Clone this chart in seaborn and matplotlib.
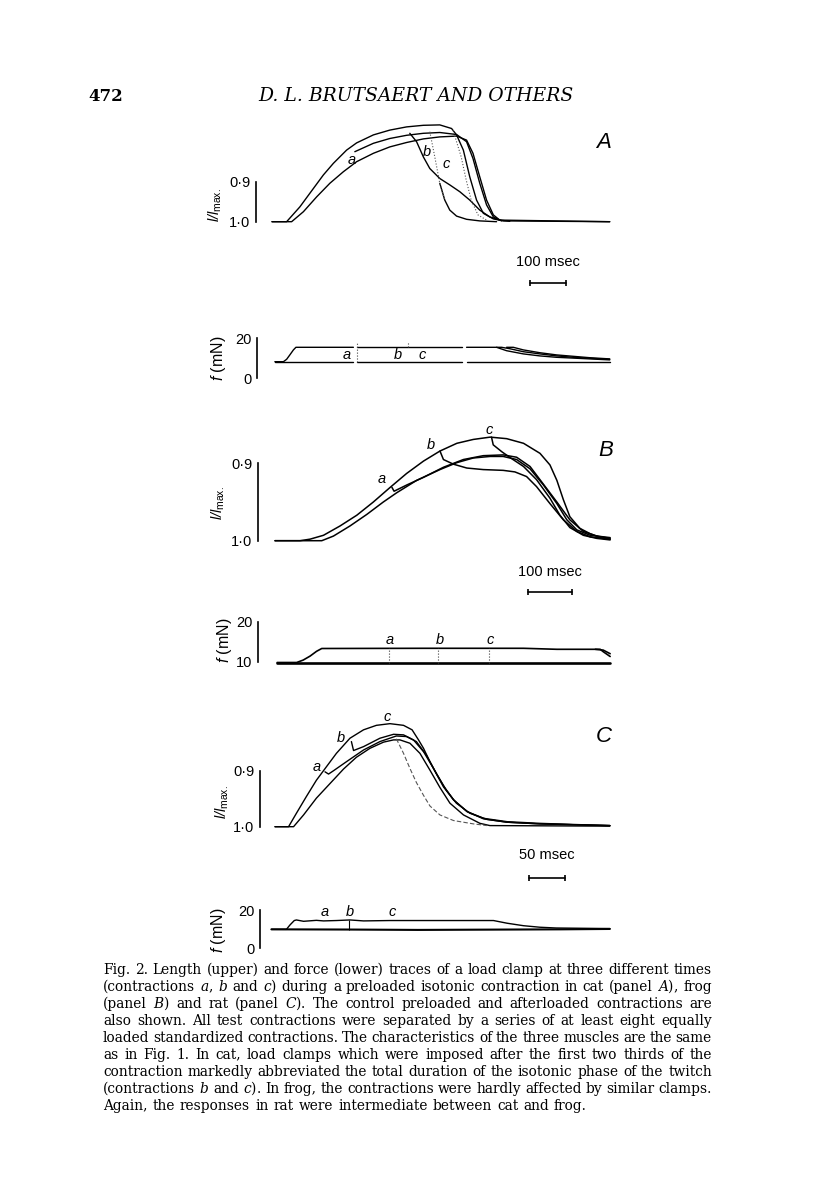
import matplotlib.pyplot as plt
import matplotlib.transforms as mtransforms
import pandas as pd
import seaborn as sns

W, H = 816, 1191

# ---------------- panel A (cat): length, l/l max. against msec
a_pre_t = [0, 41, 78, 106, 144, 172, 209, 237, 284, 330, 377, 424, 470, 503,
           517, 536, 554, 573, 592, 620, 648, 946]
a_pre_l = [1.0, 1.0, 0.963, 0.929, 0.883, 0.854, 0.821, 0.803, 0.783, 0.771,
           0.763, 0.759, 0.758, 0.767, 0.783, 0.821, 0.888, 0.946, 0.979,
           0.993, 0.998, 1.0]
a_aft_t = [0, 55, 88, 125, 162, 200, 237, 284, 330, 377, 424, 470, 517, 545,
           563, 582, 601, 620, 638, 946]
a_aft_l = [1.0, 1.0, 0.975, 0.938, 0.904, 0.875, 0.85, 0.829, 0.813, 0.802,
           0.793, 0.788, 0.786, 0.796, 0.829, 0.888, 0.946, 0.983, 0.996, 1.0]
a_a_t = [232, 284, 330, 377, 424, 470, 517, 545, 563, 582, 601, 620, 643]
a_a_l = [0.825, 0.804, 0.792, 0.784, 0.779, 0.777, 0.782, 0.8, 0.842, 0.904,
         0.958, 0.988, 0.998]
a_b_t = [386, 405, 424, 442, 470, 498, 526, 554, 582, 610, 638, 666]
a_b_l = [0.779, 0.8, 0.838, 0.867, 0.892, 0.908, 0.925, 0.946, 0.971, 0.988,
         0.996, 0.999]
a_c_t = [470, 484, 498, 517, 545, 582, 629]
a_c_l = [0.904, 0.946, 0.971, 0.986, 0.994, 0.998, 1.0]
a_c_fast_t = [442, 456, 470, 484]
a_c_fast_l = [0.775, 0.838, 0.904, 0.946]
a_fall_t = [507, 530, 544, 558, 577, 601]
a_fall_l = [0.771, 0.838, 0.896, 0.946, 0.983, 0.996]

# panel A force, mN
af_up1_t = [8, 32, 41, 50, 60, 67, 228]
af_up1_f = [8.3, 8.3, 9.5, 11.7, 14.2, 15.5, 15.5]
af_up2_t = [237, 531]
af_up2_f = [15.5, 15.5]
af_up3_t = [545, 643, 666, 704, 750, 797, 844, 890, 946]
af_up3_f = [15.5, 15.5, 14.8, 13.3, 12.2, 11.2, 10.5, 10.0, 9.5]
af_dec2_t = [629, 657, 704, 750, 797, 890, 946]
af_dec2_f = [15.5, 13.8, 12.2, 11.2, 10.5, 9.7, 9.2]
af_dec3_t = [657, 676, 704, 750, 797, 890, 946]
af_dec3_f = [15.5, 15.5, 14.2, 12.8, 11.7, 10.3, 9.7]
af_low1_t = [8, 228]
af_low2_t = [237, 531]
af_low3_t = [545, 946]
af_low_f = [8.3, 8.3]
af_marks_t = [237, 382]
af_marks_top = [17.5, 18.3]
af_marks_bot = [8.3, 15.5]

# ---------------- panel B (frog)
b_pre_t = [0, 58, 81, 112, 150, 189, 227, 266, 304, 343, 381, 420, 458, 497,
           535, 574, 612, 635, 651, 666, 681, 704, 728, 758, 774]
b_pre_l = [1.0, 1.0, 0.998, 0.993, 0.981, 0.967, 0.950, 0.931, 0.913, 0.897,
           0.884, 0.874, 0.869, 0.866, 0.868, 0.874, 0.887, 0.902, 0.922,
           0.947, 0.969, 0.984, 0.991, 0.997, 0.998]
b_aft_t = [0, 108, 135, 173, 212, 250, 281, 327, 381, 420, 458, 497, 527, 558,
           589, 620, 651, 674, 697, 728, 774]
b_aft_l = [1.0, 1.0, 0.994, 0.981, 0.966, 0.950, 0.938, 0.922, 0.908, 0.899,
           0.893, 0.891, 0.891, 0.895, 0.907, 0.928, 0.952, 0.973, 0.986,
           0.993, 0.996]
b_a_t = [270, 275, 304, 343, 389, 435, 481, 527, 558, 589, 620, 651, 681, 712,
         743, 774]
b_a_l = [0.931, 0.936, 0.928, 0.918, 0.905, 0.895, 0.890, 0.889, 0.892, 0.904,
         0.927, 0.950, 0.973, 0.988, 0.994, 0.997]
b_b_t = [381, 389, 412, 443, 481, 527, 554, 581, 604, 635, 666, 697, 728, 774]
b_b_l = [0.884, 0.895, 0.901, 0.906, 0.908, 0.909, 0.911, 0.917, 0.930, 0.952,
         0.973, 0.988, 0.995, 0.998]
b_c_t = [500, 504, 524, 547, 574, 604, 635, 658, 681, 712, 743, 774]
b_c_l = [0.866, 0.876, 0.885, 0.894, 0.904, 0.921, 0.945, 0.967, 0.983,
         0.993, 0.997, 0.999]

bf_up_t = [5, 50, 65, 81, 96, 108, 343, 574, 651, 751, 758, 774]
bf_up_f = [9.8, 9.8, 10.4, 11.4, 12.6, 13.3, 13.35, 13.35, 13.1, 13.1, 12.5,
           11.3]
bf_end_t = [740, 758, 774]
bf_end_f = [13.1, 12.9, 12.0]
bf_low_t = [5, 774]
bf_low_f = [9.8, 9.8]
bf_marks_t = [264, 377, 495]

# ---------------- panel C (rat)
c_pre_t = [0, 19, 30, 44, 58, 72, 86, 105, 124, 142, 161, 180, 192, 201, 208,
           217, 227, 236, 250, 269, 292, 325, 371, 418, 469]
c_pre_l = [1.0, 1.0, 0.976, 0.946, 0.917, 0.893, 0.869, 0.842, 0.827, 0.819,
           0.816, 0.819, 0.827, 0.845, 0.860, 0.884, 0.908, 0.929, 0.952,
           0.973, 0.985, 0.991, 0.994, 0.996, 0.998]
c_aft_t = [0, 26, 40, 58, 77, 96, 114, 133, 152, 166, 175, 189, 203, 217, 231,
           245, 264, 287, 301, 469]
c_aft_l = [1.0, 1.0, 0.979, 0.949, 0.923, 0.897, 0.876, 0.860, 0.849, 0.845,
           0.845, 0.851, 0.869, 0.899, 0.930, 0.958, 0.979, 0.994, 0.998,
           0.999]
c_a_t = [70, 75, 82, 100, 124, 147, 170, 184, 198, 212, 226, 240, 254, 273,
         297, 325, 371, 469]
c_a_l = [0.902, 0.906, 0.900, 0.884, 0.863, 0.848, 0.838, 0.839, 0.848, 0.872,
         0.905, 0.935, 0.958, 0.976, 0.987, 0.992, 0.995, 0.998]
c_b_t = [107, 110, 124, 147, 166, 180, 194, 208, 222, 236, 250, 269, 292, 325,
         371, 469]
c_b_l = [0.848, 0.864, 0.857, 0.842, 0.835, 0.836, 0.845, 0.866, 0.896,
         0.927, 0.952, 0.973, 0.986, 0.992, 0.995, 0.998]
c_c_t = [170, 180, 189, 198, 208, 217, 231, 250, 278, 297]
c_c_l = [0.843, 0.869, 0.896, 0.921, 0.944, 0.963, 0.979, 0.989, 0.995, 0.998]

cf_up_t = [-5, 16, 21, 27, 30, 40, 58, 68, 86, 105, 124, 161, 208, 306, 325,
           348, 371, 394, 469]
cf_up_f = [9.9, 9.9, 12.2, 14.5, 14.8, 14.1, 14.6, 14.3, 14.5, 14.8, 14.3,
           14.5, 14.5, 14.5, 13.1, 11.8, 11.0, 10.6, 10.3]
cf_low_t = [-5, 100, 200, 300, 400, 469]
cf_low_f = [9.9, 9.8, 9.6, 9.75, 9.9, 10.1]
cf_marks_t = [104]

length_ticks = [0.9, 1.0]
length_labels = ['0·9', '1·0']
force_ticks = {'A': [0, 20], 'B': [10, 20], 'C': [0, 20]}
scale_ms = {'A': 100, 'B': 100, 'C': 50}

caption = [
    "Fig. 2. Length (upper) and force (lower) traces of a load clamp at three different times",
    "(contractions $a$, $b$ and $c$) during a preloaded isotonic contraction in cat (panel $A$), frog",
    "(panel $B$) and rat (panel $C$). The control preloaded and afterloaded contractions are",
    "also shown. All test contractions were separated by a series of at least eight equally",
    "loaded standardized contractions. The characteristics of the three muscles are the same",
    "as in Fig. 1. In cat, load clamps which were imposed after the first two thirds of the",
    "contraction markedly abbreviated the total duration of the isotonic phase of the twitch",
    "(contractions $b$ and $c$). In frog, the contractions were hardly affected by similar clamps.",
    "Again, the responses in rat were intermediate between cat and frog.",
]


def px(x, y):
    return x / W, 1 - y / H


def frame(curves):
    parts = [pd.DataFrame({'t': t, 'v': v, 'curve': name})
             for name, (t, v) in curves.items()]
    return pd.concat(parts, ignore_index=True)


def panel(fig, box, t0_px, px_per_ms, ref_px, ref_val, px_per_unit, flip):
    left, right, top, bottom = box
    ax = fig.add_axes([left / W, 1 - bottom / H,
                       (right - left) / W, (bottom - top) / H])
    ax.set_xlim((left - t0_px) / px_per_ms, (right - t0_px) / px_per_ms)
    s = -1 if flip else 1
    ax.set_ylim(ref_val + s * (ref_px - bottom) / px_per_unit,
                ref_val + s * (ref_px - top) / px_per_unit)
    ax.patch.set_visible(False)
    return ax


def traces(ax, curves, lw=1.0, color='black', ls='-'):
    sns.lineplot(data=frame(curves), x='t', y='v', units='curve',
                 estimator=None, color=color, linewidth=lw, linestyle=ls,
                 ax=ax, legend=False)


def bracket(ax, ticks, labels):
    for side in ['top', 'right', 'bottom']:
        ax.spines[side].set_visible(False)
    ax.spines['left'].set_bounds(ticks[0], ticks[-1])
    ax.spines['left'].set_linewidth(1.2)
    ax.spines['left'].set_color('black')
    ax.set_yticks(ticks)
    ax.set_yticklabels(labels)
    ax.set_xticks([])
    ax.tick_params(axis='y', direction='in', length=4, width=1.2, pad=4,
                   labelsize=10.5, colors='black')
    ax.set_xlabel('')
    ax.set_ylabel('')


def scale_bar(fig, ax, t_start, ms, y_bar, y_text):
    trans = mtransforms.blended_transform_factory(ax.transData, fig.transFigure)
    ax.plot([t_start, t_start + ms], [1 - y_bar / H] * 2, color='black',
            lw=1.2, marker='|', markersize=5, markeredgewidth=1.2,
            transform=trans, clip_on=False)
    ax.text(t_start + ms / 2, 1 - y_text / H, f'{ms} msec', transform=trans,
            ha='center', va='center', fontsize=10.5)


def main():
    sns.set_style('white')
    plt.rcParams['font.family'] = ['Liberation Sans', 'DejaVu Sans']
    plt.rcParams['text.color'] = 'black'
    plt.rcParams['mathtext.fontset'] = 'custom'
    plt.rcParams['mathtext.it'] = 'DejaVu Serif:italic'
    plt.rcParams['mathtext.rm'] = 'DejaVu Serif'
    plt.rcParams['mathtext.sf'] = 'Liberation Sans:italic'
    plt.rcParams['mathtext.bf'] = 'Liberation Sans'

    fig = plt.figure(figsize=(W / 100, H / 100), dpi=100)
    fig.patch.set_facecolor('white')

    # header
    fig.text(*px(88, 101), '472', fontsize=12, weight='bold',
             family='DejaVu Serif', va='baseline')
    fig.text(*px(258, 101), 'D. L. BRUTSAERT AND OTHERS', fontsize=13.5,
             style='italic', family='DejaVu Serif', va='baseline')

    ylab_len = r'$\mathsf{l/l}_{\mathbf{max.}}$'
    ylab_f = r'$\mathsf{f}$ (mN)'

    # ---------- A
    ax = panel(fig, (256, 625, 115, 232), 272, 0.357, 221.7, 1.0, 400, True)
    traces(ax, {'pre': (a_pre_t, a_pre_l), 'aft': (a_aft_t, a_aft_l),
                'a': (a_a_t, a_a_l), 'b': (a_b_t, a_b_l),
                'c': (a_c_t, a_c_l)})
    traces(ax, {'cf': (a_c_fast_t, a_c_fast_l), 'f': (a_fall_t, a_fall_l)},
           lw=0.8, color='#555555', ls=':')
    bracket(ax, length_ticks, length_labels)
    scale_bar(fig, ax, 723, scale_ms['A'], 283, 262)

    ax = panel(fig, (257, 625, 325, 385), 272, 0.357, 378.3, 0, 2, False)
    traces(ax, {'u1': (af_up1_t, af_up1_f), 'u2': (af_up2_t, af_up2_f),
                'u3': (af_up3_t, af_up3_f), 'd2': (af_dec2_t, af_dec2_f),
                'd3': (af_dec3_t, af_dec3_f), 'l1': (af_low1_t, af_low_f),
                'l2': (af_low2_t, af_low_f), 'l3': (af_low3_t, af_low_f)})
    ax.vlines(af_marks_t, af_marks_bot, af_marks_top, colors='#444444',
              linestyles=':', lw=0.8)
    bracket(ax, force_ticks['A'], [str(v) for v in force_ticks['A']])

    # ---------- B
    ax = panel(fig, (258, 625, 425, 550), 275, 0.433, 540.7, 1.0, 773, True)
    traces(ax, {'pre': (b_pre_t, b_pre_l), 'aft': (b_aft_t, b_aft_l),
                'a': (b_a_t, b_a_l), 'b': (b_b_t, b_b_l),
                'c': (b_c_t, b_c_l)}, lw=1.1)
    bracket(ax, length_ticks, length_labels)
    scale_bar(fig, ax, 585, scale_ms['B'], 592, 572)

    ax = panel(fig, (258, 625, 610, 670), 275, 0.433, 661.7, 10, 4, False)
    traces(ax, {'u': (bf_up_t, bf_up_f), 'e': (bf_end_t, bf_end_f)}, lw=1.2)
    traces(ax, {'l': (bf_low_t, bf_low_f)}, lw=1.9)
    ax.vlines(bf_marks_t, bf_low_f[0], bf_up_f[6], colors='#444444',
              linestyles=':', lw=0.8)
    bracket(ax, force_ticks['B'], [str(v) for v in force_ticks['B']])

    # ---------- C
    ax = panel(fig, (260, 625, 705, 835), 275, 0.714, 826.7, 1.0, 560, True)
    traces(ax, {'pre': (c_pre_t, c_pre_l), 'aft': (c_aft_t, c_aft_l),
                'a': (c_a_t, c_a_l), 'b': (c_b_t, c_b_l)})
    traces(ax, {'c': (c_c_t, c_c_l)}, lw=0.8, color='#555555', ls=(0, (4, 2)))
    bracket(ax, length_ticks, length_labels)
    scale_bar(fig, ax, 356, scale_ms['C'], 878, 855)

    ax = panel(fig, (260, 625, 900, 955), 275, 0.714, 948.3, 0, 1.915, False)
    traces(ax, {'u': (cf_up_t, cf_up_f)})
    traces(ax, {'l': (cf_low_t, cf_low_f)}, lw=1.5)
    ax.vlines(cf_marks_t, cf_low_f[1], cf_up_f[9], colors='black', lw=0.8)
    bracket(ax, force_ticks['C'], [str(v) for v in force_ticks['C']])

    # axis titles
    for x, y in [(215, 205), (218, 503), (222, 802)]:
        fig.text(*px(x, y), ylab_len, rotation=90, ha='center', va='center',
                 fontsize=10.5)
    for x, y in [(218, 358), (224, 640), (218, 930)]:
        fig.text(*px(x, y), ylab_f, rotation=90, ha='center', va='center',
                 fontsize=11.5)

    # panel letters and clamp labels
    for letter, (x, y) in {'A': (604, 142), 'B': (606, 450),
                           'C': (604, 737)}.items():
        fig.text(*px(x, y), letter, fontsize=16, style='italic',
                 ha='center', va='center')
    clamp_labels = [
        ('a', 352, 160), ('b', 427, 152), ('c', 446, 164),
        ('a', 347, 355), ('b', 398, 355), ('c', 422, 355),
        ('a', 382, 479), ('b', 431, 445), ('c', 489, 430),
        ('a', 390, 640), ('b', 440, 640), ('c', 490, 640),
        ('a', 317, 767), ('b', 341, 738), ('c', 387, 717),
        ('a', 325, 912), ('b', 350, 912), ('c', 392, 912),
    ]
    for s, x, y in clamp_labels:
        fig.text(*px(x, y), s, fontsize=10.5, style='italic',
                 ha='center', va='center')

    # caption, justified
    renderer = fig.canvas.get_renderer()
    cap_left, cap_right = 103, 712
    for i, line in enumerate(caption):
        words = line.split(' ')
        y = 1 - (974 + 17 * i) / H
        texts = [fig.text(0, y, w, fontsize=9.9, family='DejaVu Serif',
                          color='black', va='baseline') for w in words]
        widths = [t.get_window_extent(renderer).width for t in texts]
        if i < len(caption) - 1:
            gap = (cap_right - cap_left - sum(widths)) / (len(words) - 1)
        else:
            gap = 5.0
        x = cap_left
        for t, w in zip(texts, widths):
            t.set_x(x / W)
            x += w + gap

    fig.savefig('out.png', dpi=100, facecolor='white')


if __name__ == '__main__':
    main()
